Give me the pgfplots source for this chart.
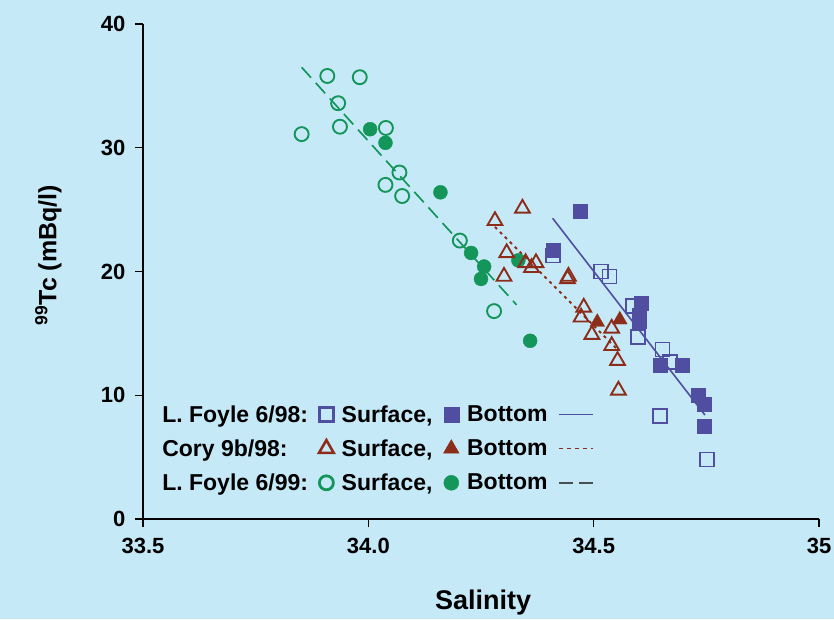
\documentclass[border=0pt]{standalone}
\usepackage{fontspec}
\setmainfont{Liberation Sans}
\usepackage{pgfplots}
\pgfplotsset{compat=1.18}
\definecolor{bg}{RGB}{198,233,248}
\definecolor{cblue}{RGB}{80,78,160}
\definecolor{cred}{RGB}{140,45,25}
\definecolor{cgreen}{RGB}{20,150,90}
\definecolor{cgray}{RGB}{70,80,80}
\pgfplotsset{longline/.style={legend image code/.code={\draw[##1] (0pt,0pt) -- (34pt,0pt);}}}

\pgfplotstableread{
x y
33.909 35.8
33.981 35.7
33.933 33.6
33.937 31.7
33.852 31.1
34.039 31.6
34.069 28.0
34.038 27.0
34.075 26.1
34.203 22.5
34.279 16.8
}\greenopen
\pgfplotstableread{
x y
34.004 31.5
34.038 30.4
34.160 26.4
34.228 21.5
34.257 20.4
34.250 19.4
34.333 20.9
34.359 14.4
}\greenfill
\pgfplotstableread{
x y
34.342 25.1
34.281 24.1
34.307 21.5
34.349 20.7
34.372 20.7
34.362 20.3
34.301 19.6
34.444 19.6
34.442 19.4
34.478 17.1
34.472 16.3
34.540 15.4
34.496 14.9
34.540 14.0
34.553 12.8
34.555 10.4
}\redopen
\pgfplotstableread{
x y
34.508 15.9
34.558 16.1
}\redfill
\pgfplotstableread{
x y
34.410 21.3
34.516 20.0
34.535 19.6
34.587 17.2
34.598 14.7
34.653 13.7
34.669 12.7
34.647 8.3
34.751 4.8
}\blueopen
\pgfplotstableread{
x y
34.470 24.9
34.410 21.7
34.606 17.4
34.601 16.5
34.601 16.0
34.647 12.4
34.697 12.4
34.731 10.0
34.745 9.3
34.745 7.5
}\bluefill

\begin{document}
\begin{tikzpicture}
\path[use as bounding box, fill=bg] (-143pt,-100pt) rectangle (691pt,519pt);
\begin{axis}[
  scale only axis, width=676pt, height=495pt,
  xmin=33.5, xmax=35, ymin=0, ymax=40,
  axis x line=bottom, axis y line=left,
  axis line style={-, line width=1.6pt, black},
  xtick={33.5,34,34.5,35}, xticklabels={33.5,34.0,34.5,35},
  ytick={0,10,20,30,40},
  tick align=outside, major tick length=8pt,
  tick style={line width=1.4pt, black},
  ticklabel style={font=\fontsize{22}{25}\selectfont\bfseries},
  xticklabel style={yshift=-8pt},
  yticklabel style={xshift=-6pt},
  /pgf/number format/assume math mode=true,
  xlabel={Salinity},
  ylabel={\textsuperscript{99}Tc (mBq/l)},
  xlabel style={font=\fontsize{27}{30}\selectfont\bfseries, at={(axis description cs:0.503,-0.168)}, anchor=center},
  ylabel style={font=\fontsize{25}{28}\selectfont\bfseries, at={(axis description cs:-0.14,0.533)}, anchor=center},
  clip=false,
  legend columns=4,
  legend cell align=left,
  legend style={draw=none, fill=none, at={(axis description cs:0.012,0.238)}, anchor=north west,
    font=\fontsize{23}{26}\selectfont\bfseries, row sep=12pt,
    /tikz/every odd column/.append style={column sep=6pt},
    /tikz/every even column/.append style={column sep=9pt}},
]
% regression lines
\addplot[cblue, line width=1.6pt, forget plot] coordinates {(34.409,24.3) (34.747,8.4)};
\addplot[cred, line width=1.8pt, dash pattern=on 3pt off 4pt, forget plot] coordinates {(34.281,23.6) (34.550,13.8)};
\addplot[cgreen, line width=1.7pt, dash pattern=on 14pt off 7pt, forget plot] coordinates {(33.852,36.5) (34.329,17.3)};
% points
\addplot[only marks, mark=o, mark size=7pt, cgreen, line width=1.9pt, forget plot] table {\greenopen};
\addplot[only marks, mark=*, mark size=7pt, cgreen, forget plot] table {\greenfill};
\addplot[only marks, mark=triangle, mark size=8.5pt, cred, line width=1.9pt, forget plot] table {\redopen};
\addplot[only marks, mark=triangle*, mark size=8.5pt, cred, forget plot] table {\redfill};
\addplot[only marks, mark=square, mark size=7pt, cblue, line width=1.7pt, forget plot] table {\blueopen};
\addplot[only marks, mark=square*, mark size=7pt, cblue, forget plot] table {\bluefill};
% legend
\addlegendimage{empty legend}\addlegendentry{L. Foyle 6/98:}
\addlegendimage{only marks, mark=square, mark size=7pt, cblue, line width=2.6pt}\addlegendentry{Surface,}
\addlegendimage{only marks, mark=square*, mark size=7.5pt, cblue}\addlegendentry{Bottom}
\addlegendimage{cblue, line width=1.3pt, longline}\addlegendentry{}
\addlegendimage{empty legend}\addlegendentry{Cory 9b/98:}
\addlegendimage{only marks, mark=triangle, mark size=8.5pt, cred, line width=2.6pt}\addlegendentry{Surface,}
\addlegendimage{only marks, mark=triangle*, mark size=9pt, cred}\addlegendentry{Bottom}
\addlegendimage{cred, line width=1.4pt, dash pattern=on 4pt off 4pt, longline}\addlegendentry{}
\addlegendimage{empty legend}\addlegendentry{L. Foyle 6/99:}
\addlegendimage{only marks, mark=o, mark size=7pt, cgreen, line width=2.8pt}\addlegendentry{Surface,}
\addlegendimage{only marks, mark=*, mark size=7.5pt, cgreen}\addlegendentry{Bottom}
\addlegendimage{cgray, line width=1.4pt, dash pattern=on 14pt off 6pt, longline}\addlegendentry{}
\end{axis}
\end{tikzpicture}
\end{document}
